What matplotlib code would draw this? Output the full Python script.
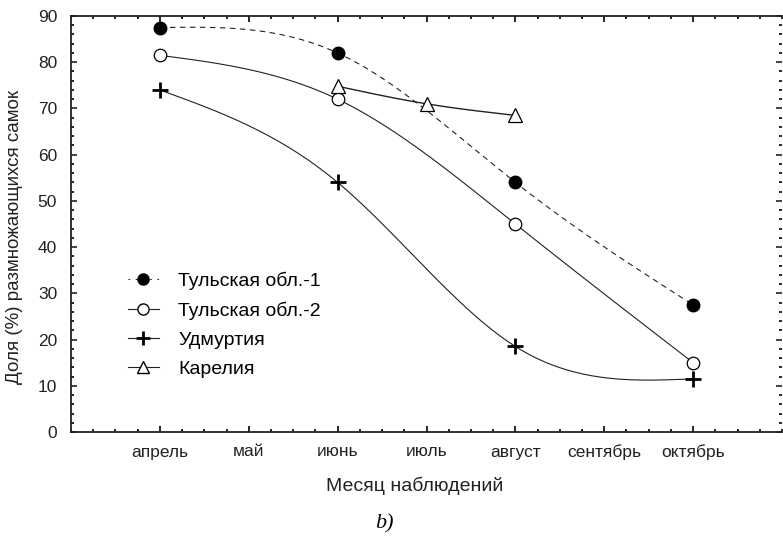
import numpy as np
import matplotlib.pyplot as plt
from matplotlib.ticker import MultipleLocator

plt.rcParams['font.family'] = ['Liberation Sans', 'DejaVu Sans']

months = ['апрель', 'май', 'июнь', 'июль', 'август', 'сентябрь', 'октябрь']

tula1_x = [1, 3, 5, 7]
tula1_y = [87.5, 82.0, 54.0, 27.5]
tula2_x = [1, 3, 5, 7]
tula2_y = [81.5, 72.0, 45.0, 15.0]
udm_x = [1, 3, 5, 7]
udm_y = [74.0, 54.0, 18.5, 11.5]
kar_x = [3, 4, 5]
kar_y = [74.8, 71.0, 68.5]


def spline(x, y, n=200):
    # natural cubic spline through the points
    x = np.asarray(x, float)
    y = np.asarray(y, float)
    k = len(x)
    h = np.diff(x)
    A = np.zeros((k, k))
    b = np.zeros(k)
    A[0, 0] = A[-1, -1] = 1
    for i in range(1, k - 1):
        A[i, i - 1] = h[i - 1]
        A[i, i] = 2 * (h[i - 1] + h[i])
        A[i, i + 1] = h[i]
        b[i] = 6 * ((y[i + 1] - y[i]) / h[i] - (y[i] - y[i - 1]) / h[i - 1])
    M = np.linalg.solve(A, b)
    xs = np.linspace(x[0], x[-1], n)
    ys = np.empty_like(xs)
    for j, t in enumerate(xs):
        i = min(np.searchsorted(x, t, side='right') - 1, k - 2)
        a = x[i + 1] - t
        c = t - x[i]
        ys[j] = (M[i] * a ** 3 + M[i + 1] * c ** 3) / (6 * h[i]) \
            + (y[i] / h[i] - M[i] * h[i] / 6) * a \
            + (y[i + 1] / h[i] - M[i + 1] * h[i] / 6) * c
    return xs, ys


fig = plt.figure(figsize=(7.83, 5.38), dpi=100)
ax = fig.add_axes([71 / 783, 1 - 432 / 538, 711 / 783, 416 / 538])

lc = '#222222'
sx, sy = spline(tula1_x, tula1_y)
ax.plot(sx, sy, color=lc, lw=0.8, ls=(0, (5, 4)))
ax.plot(tula1_x, tula1_y, 'o', color='black', ms=9)
sx, sy = spline(tula2_x, tula2_y)
ax.plot(sx, sy, color=lc, lw=0.8)
ax.plot(tula2_x, tula2_y, 'o', mfc='white', mec='black', ms=9, mew=0.9)
sx, sy = spline(udm_x, udm_y)
ax.plot(sx, sy, color=lc, lw=0.8)
ax.plot(udm_x, udm_y, '+', color='black', ms=11, mew=2)
sx, sy = spline(kar_x, kar_y)
ax.plot(sx, sy, color=lc, lw=1.0)
ax.plot(kar_x, kar_y, '^', mfc='white', mec='black', ms=10, mew=0.9)

# legend handles
h1, = ax.plot([], [], color=lc, lw=0.8, ls=(0, (1.5, 5)), marker='o', mfc='black', mec='black', ms=8)
h2, = ax.plot([], [], color=lc, lw=0.8, marker='o', mfc='white', mec='black', ms=8)
h3, = ax.plot([], [], color=lc, lw=0.8, marker='+', mec='black', ms=10, mew=2)
h4, = ax.plot([], [], color=lc, lw=0.8, marker='^', mfc='white', mec='black', ms=9)
ax.legend([h1, h2, h3, h4], ['Тульская обл.-1', 'Тульская обл.-2', 'Удмуртия', 'Карелия'],
          loc='upper left', bbox_to_anchor=(0.069, 0.405), frameon=False, fontsize=14,
          handlelength=1.6, handletextpad=1.0, labelspacing=0.6, borderaxespad=0)

ax.set_xlim(0, 8)
ax.set_ylim(0, 90)
ax.set_xticks(range(1, 8))
ax.set_xticklabels(months, fontsize=12.5, color='#222222')
ax.xaxis.set_minor_locator(MultipleLocator(0.25))
ax.yaxis.set_major_locator(MultipleLocator(10))
ax.yaxis.set_minor_locator(MultipleLocator(2))
ax.tick_params(axis='y', labelsize=12.5, colors='#222222', pad=10)
ax.tick_params(which='both', direction='in', top=True, right=True, width=1.2)
ax.tick_params(which='major', length=4)
ax.tick_params(which='minor', length=2)
ax.tick_params(axis='x', pad=9)
ax.spines['right'].set_visible(False)
for s in ['left', 'top', 'bottom']:
    ax.spines[s].set_linewidth(1.3)
    ax.spines[s].set_color('#222222')

ax.set_xlabel('Месяц наблюдений', fontsize=14, color='#222222')
ax.xaxis.set_label_coords(0.484, -0.108)
ax.set_ylabel('Доля (%) размножающихся самок', fontsize=13.5, color='#222222')
ax.yaxis.set_label_coords(-0.068, 0.469)

fig.text(384 / 783, 1 - 524 / 538, 'b)', fontsize=16, style='italic',
         family='Liberation Serif', ha='center', va='center')

fig.savefig('out.png', dpi=100)
